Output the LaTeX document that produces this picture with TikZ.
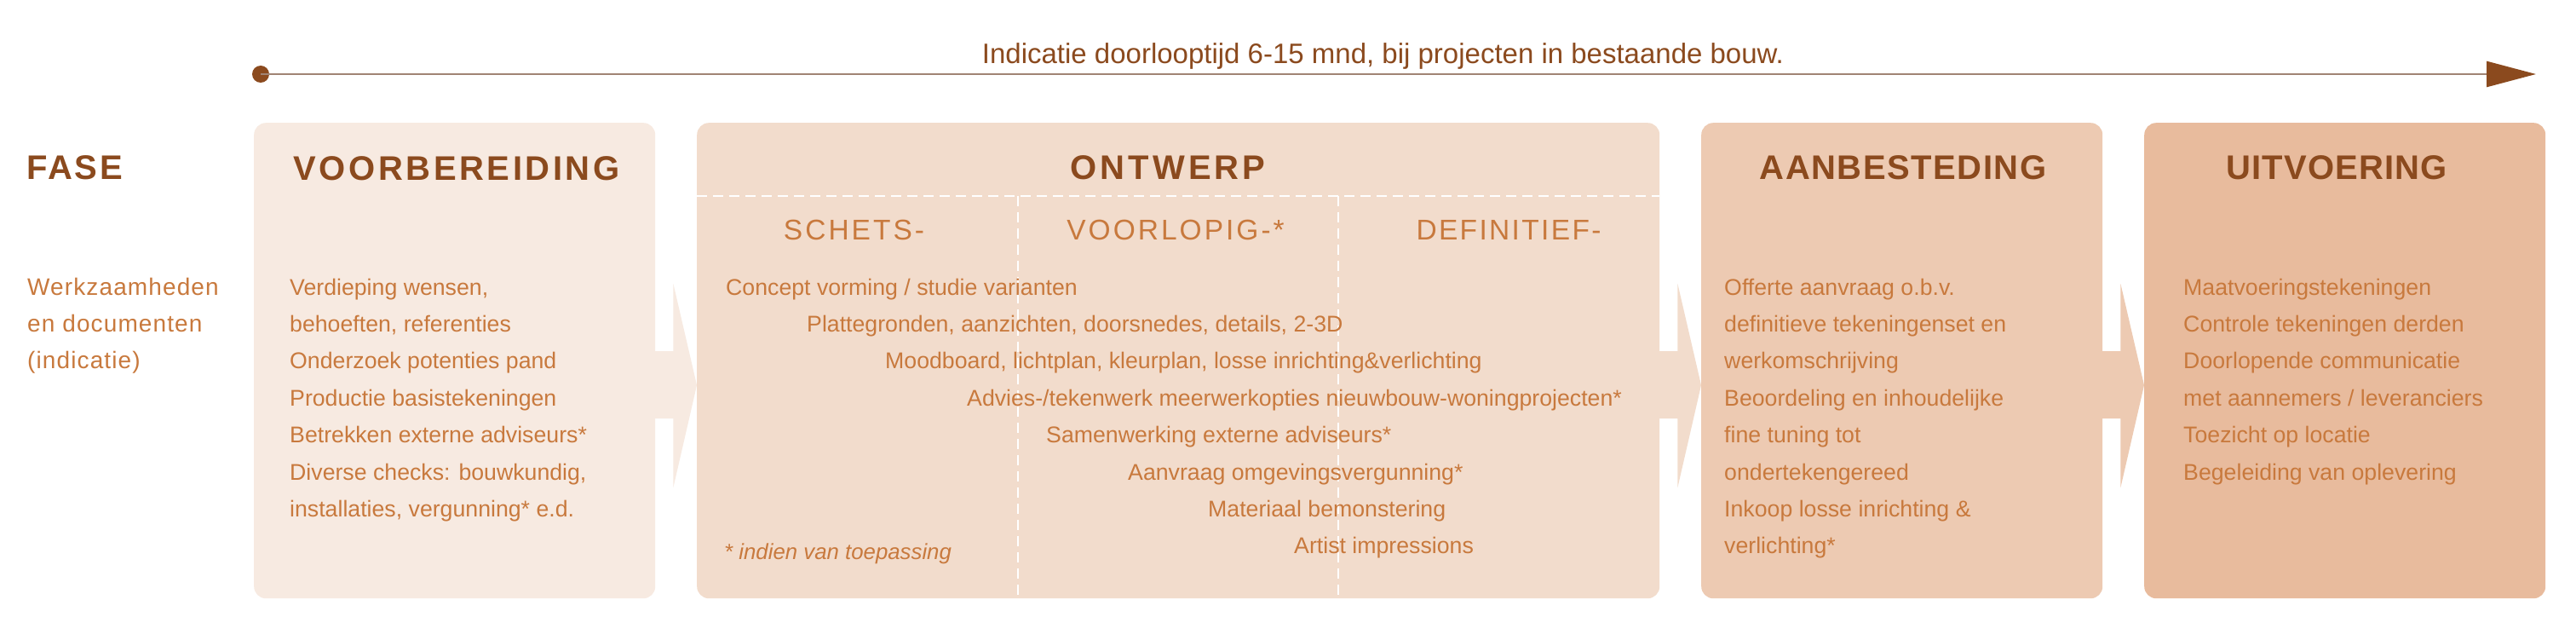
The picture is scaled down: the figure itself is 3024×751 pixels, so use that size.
\documentclass[tikz,border=0pt]{standalone}
\usepackage{fontspec}
\setmainfont{Liberation Sans}
\usetikzlibrary{calc,arrows.meta}
\definecolor{cA}{HTML}{F7EAE1}
\definecolor{cB}{HTML}{F2DCCC}
\definecolor{cC}{HTML}{EDCAB2}
\definecolor{cD}{HTML}{E8BB9D}
\definecolor{txt}{HTML}{C8793D}
\definecolor{head}{HTML}{8B4A1E}
\definecolor{tline}{HTML}{A08474}
\begin{document}
\begin{tikzpicture}[x=1pt,y=-1pt,
  phase/.style={rounded corners=14pt, minimum width=471pt, minimum height=558pt, inner sep=0pt, anchor=north west},
  body/.style={text=txt, inner sep=0pt, anchor=base west, font=\fontsize{26.7}{32}\selectfont},
  note/.style={text=txt, inner sep=0pt, anchor=base west, font=\fontsize{25.8}{31}\selectfont\itshape},
  side/.style={text=txt, inner sep=0pt, anchor=base west, font=\fontsize{28}{34}\selectfont\addfontfeature{LetterSpace=4}},
  heading/.style={text=head, inner sep=0pt, anchor=base, font=\fontsize{40}{48}\selectfont\bfseries\addfontfeature{LetterSpace=#1}},
  subhead/.style={text=txt, inner sep=0pt, anchor=base, font=\fontsize{33.5}{40}\selectfont\addfontfeature{LetterSpace=#1}},
  divider/.style={white, line width=2pt, dash pattern=on 12pt off 7pt}
]
\fill[white] (0,0) rectangle (3024,751);
\useasboundingbox (0,0) rectangle (3024,751);

% timeline
\node[circle, fill=head, minimum size=20pt, inner sep=0pt] (dot) at (306,87) {};
\coordinate (tend) at (2977,87);
\draw[tline, line width=2.5pt, -{Triangle[length=58pt, width=30pt, color=head, fill=head]}] (dot.center) -- (tend);
\node[anchor=base, inner sep=0pt, text=head, font=\fontsize{33}{40}\selectfont] (title) at (1623.5,75)
  {Indicatie doorlooptijd 6-15 mnd, bij projecten in bestaande bouw.};

% phase boxes
\node[phase, fill=cA] (b1) at (298,144) {};
\node[phase, fill=cB, minimum width=1130pt] (b2) at (818,144) {};
\node[phase, fill=cC] (b3) at (1997,144) {};
\node[phase, fill=cD] (b4) at (2517,144) {};

% arrows between phases
\fill[cA] let \p1=(b1.east), \p2=(b2.west) in
  (\x1-2pt,412) -- (\x1+21pt,412) -- (\x1+21pt,333) -- (\x2,452) -- (\x1+21pt,572) -- (\x1+21pt,491) -- (\x1-2pt,491) -- cycle;
\fill[cB] let \p1=(b2.east), \p2=(b3.west) in
  (\x1-2pt,412) -- (\x1+21pt,412) -- (\x1+21pt,333) -- (\x2,452) -- (\x1+21pt,572) -- (\x1+21pt,491) -- (\x1-2pt,491) -- cycle;
\fill[cC] let \p1=(b3.east), \p2=(b4.west) in
  (\x1-2pt,412) -- (\x1+21pt,412) -- (\x1+21pt,333) -- (\x2,452) -- (\x1+21pt,572) -- (\x1+21pt,491) -- (\x1-2pt,491) -- cycle;

% dividers in ONTWERP
\coordinate (hl) at (818,230);
\coordinate (hr) at (1948,230);
\coordinate (v1t) at (1194.7,230);
\coordinate (v1b) at (1194.7,698);
\coordinate (v2t) at (1571.3,230);
\coordinate (v2b) at (1571.3,698);
\draw[divider] (hl) -- (hr);
\draw[divider] (v1t) -- (v1b);
\draw[divider] (v2t) -- (v2b);

% headings
\node[text=head, inner sep=0pt, anchor=base west, font=\fontsize{40}{48}\selectfont\bfseries\addfontfeature{LetterSpace=6.7}] (fase) at (31,211) {FASE};
\node[heading=9] (h1) at (536,212) {VOORBEREIDING};
\node[heading=10] (h2) at (1371,211) {ONTWERP};
\node[heading=3.7] (h3) at (2234,211) {AANBESTEDING};
\node[heading=3] (h4) at (2743,211) {UITVOERING};

\node[subhead=9] (s1) at (1002.5,282) {SCHETS-};
\node[subhead=9] (s2) at (1380,282) {VOORLOPIG-*};
\node[subhead=7] (s3) at (1771,282) {DEFINITIEF-};

% side labels
\node[side] (w1) at (32,346) {Werkzaamheden};
\node[side] (w2) at (32,389.4) {en documenten};
\node[side] (w3) at (32,432.8) {(indicatie)};

% VOORBEREIDING
\foreach \t [count=\i from 0] in {{Verdieping wensen,},{behoeften, referenties},{Onderzoek potenties pand},{Productie basistekeningen},{Betrekken externe adviseurs*},{Diverse checks: bouwkundig,},{installaties, vergunning* e.d.}}
  \node[body, name=p\i] at (340,{346+43.4*\i}) {\t};

% ONTWERP
\node[body] (o1) at (852,346) {Concept vorming / studie varianten};
\node[body] (o2) at (947,389.4) {Plattegronden, aanzichten, doorsnedes, details, 2-3D};
\node[body] (o3) at (1039,432.8) {Moodboard, lichtplan, kleurplan, losse inrichting\&verlichting};
\node[body] (o4) at (1135,476.2) {Advies-/tekenwerk meerwerkopties nieuwbouw-woningprojecten*};
\node[body] (o5) at (1228,519.6) {Samenwerking externe adviseurs*};
\node[body] (o6) at (1324,563) {Aanvraag omgevingsvergunning*};
\node[body] (o7) at (1418,606.4) {Materiaal bemonstering};
\node[body] (o8) at (1519,649.8) {Artist impressions};
\node[note] (fn) at (850,656) {* indien van toepassing};

% AANBESTEDING
\foreach \t [count=\i from 0] in {{Offerte aanvraag o.b.v.},{definitieve tekeningenset en},{werkomschrijving},{Beoordeling en inhoudelijke},{fine tuning tot},{ondertekengereed},{Inkoop losse inrichting \&},{verlichting*}}
  \node[body, name=a\i] at (2024,{346+43.4*\i}) {\t};

% UITVOERING
\foreach \t [count=\i from 0] in {{Maatvoeringstekeningen},{Controle tekeningen derden},{Doorlopende communicatie},{met aannemers / leveranciers},{Toezicht op locatie},{Begeleiding van oplevering}}
  \node[body, name=u\i] at (2563,{346+43.4*\i}) {\t};
\end{tikzpicture}
\end{document}
